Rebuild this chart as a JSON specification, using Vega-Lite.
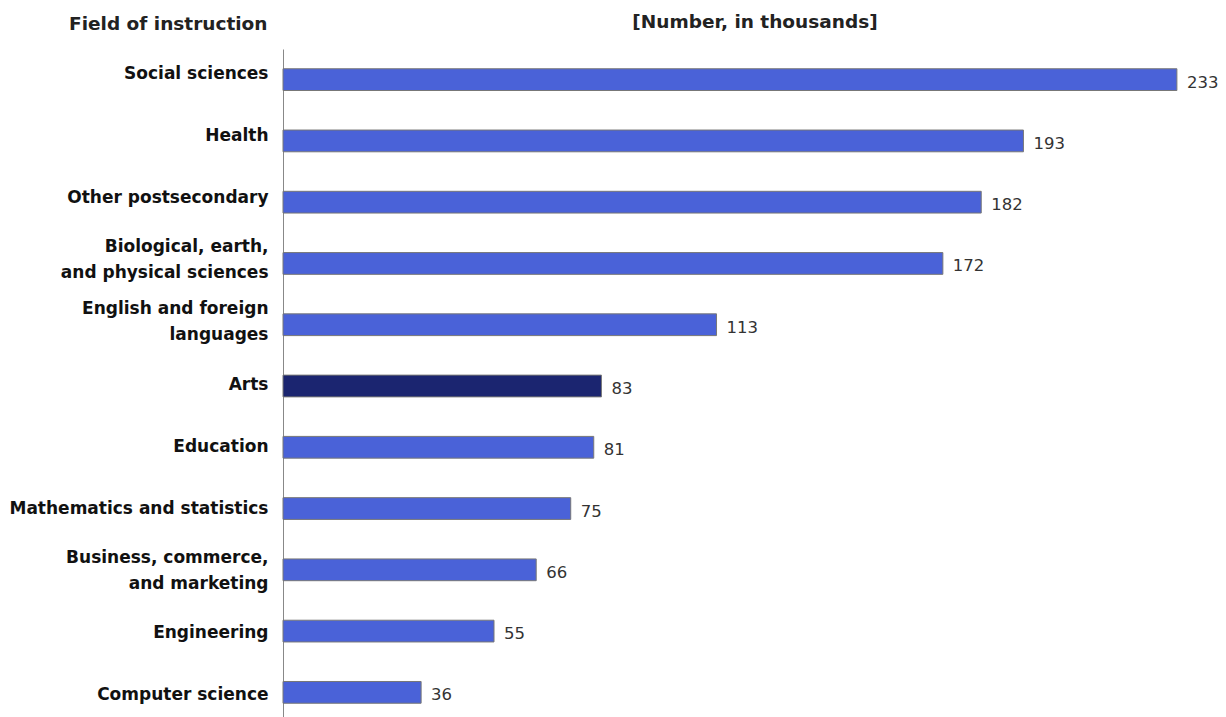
{
  "$schema": "https://vega.github.io/schema/vega-lite/v6.json",
  "autosize": "none",
  "width": 943,
  "height": 674,
  "padding": {"left": 283, "top": 49, "right": 0, "bottom": 0},
  "background": "white",
  "config": {"view": {"stroke": null}, "font": "DejaVu Sans"},
  "data": {
    "values": [
      {"field": "Social sciences", "value": 233, "hl": "no"},
      {"field": "Health", "value": 193, "hl": "no"},
      {"field": "Other postsecondary", "value": 182, "hl": "no"},
      {"field": "Biological, earth,|and physical sciences", "value": 172, "hl": "no"},
      {"field": "English and foreign|languages", "value": 113, "hl": "no"},
      {"field": "Arts", "value": 83, "hl": "yes"},
      {"field": "Education", "value": 81, "hl": "no"},
      {"field": "Mathematics and statistics", "value": 75, "hl": "no"},
      {"field": "Business, commerce,|and marketing", "value": 66, "hl": "no"},
      {"field": "Engineering", "value": 55, "hl": "no"},
      {"field": "Computer science", "value": 36, "hl": "no"}
    ]
  },
  "encoding": {
    "y": {
      "field": "field",
      "type": "nominal",
      "sort": null,
      "scale": {"paddingInner": 0.645, "paddingOuter": 0.3225},
      "axis": {
        "title": "Field of instruction",
        "titleAngle": 0,
        "titleAlign": "right",
        "titleBaseline": "middle",
        "titleX": -16,
        "titleY": -26,
        "titleFontSize": 18.5,
        "titleFontWeight": "bold",
        "titleColor": "#222222",
        "labelExpr": "split(datum.label, '|')",
        "labelFontSize": 17,
        "labelFontWeight": "bold",
        "labelColor": "#111111",
        "labelLineHeight": 26,
        "labelPadding": 15,
        "labelOffset": {"expr": "-5.7 + 8.5*datum.index + (indexof(datum.value, '|') >= 0 ? -13 : 0)"},
        "ticks": false,
        "domain": true,
        "domainColor": "#888888",
        "domainWidth": 1,
        "labelLimit": 400
      }
    },
    "x": {
      "field": "value",
      "type": "quantitative",
      "scale": {"domain": [0, 245.8], "nice": false},
      "axis": {
        "orient": "top",
        "title": "[Number, in thousands]",
        "titleY": -28,
        "titleBaseline": "middle",
        "titleFontSize": 18.5,
        "titleFontWeight": "bold",
        "titleColor": "#222222",
        "labels": false,
        "ticks": false,
        "domain": false,
        "grid": false
      }
    }
  },
  "layer": [
    {
      "mark": {"type": "bar", "stroke": "#777777", "strokeWidth": 1},
      "encoding": {
        "color": {
          "field": "hl",
          "type": "nominal",
          "scale": {"domain": ["no", "yes"], "range": ["#4a62d8", "#1b2570"]},
          "legend": null
        }
      }
    },
    {
      "mark": {"type": "text", "align": "left", "baseline": "middle", "dx": 10, "dy": 3, "fontSize": 16.5, "color": "#333333"},
      "encoding": {"text": {"field": "value", "type": "quantitative"}}
    }
  ]
}
